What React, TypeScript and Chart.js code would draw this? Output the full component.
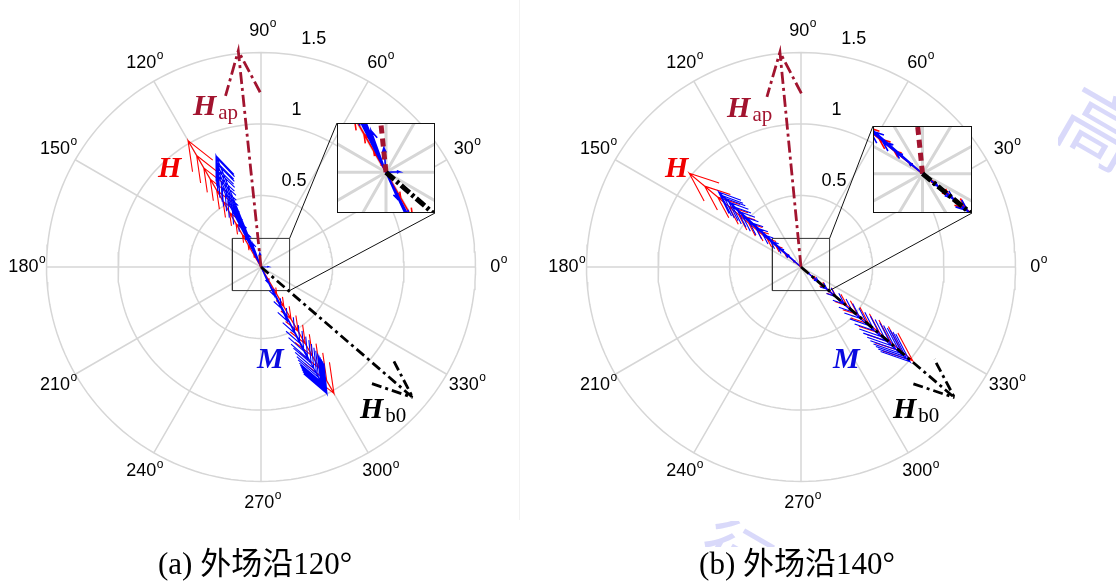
import React, { useEffect, useRef } from 'react';
import { Chart, registerables } from 'chart.js';

Chart.register(...registerables);

// ---------------- data ----------------
const RING_TICKS = [0.5, 1, 1.5];
const RING_LABELS = ['0.5', '1', '1.5'];
const SPOKE_ANGLES = [0, 30, 60, 90, 120, 150, 180, 210, 240, 270, 300, 330];
const ANGLE_LABELS = ['0', '30', '60', '90', '120', '150', '180', '210', '240', '270', '300', '330'];
const R_MAX = 1.5;

// panel (a): field along 120 deg
const FIELD_A_DEG = 120;
const H_A = [1.02, 0.9, 0.8, 0.71, 0.62, 0.53, 0.44, 0.35, 0.26, 0.18, 0.1, 0.04,
  -0.04, -0.12, -0.22, -0.32, -0.42, -0.52, -0.62, -0.72, -0.82, -0.92, -1.02];
const M_A_ANG = [112, 112, 113, 113, 114, 114, 115, 115, 116, 116, 117, 117, 116, 114, 110, 95,
  2,
  -66, -65, -64, -64, -63, -63, -63, -63, -62.5, -62.5, -62.5, -62.5, -62.5, -62.5, -62.5, -62.5, -62.5, -62.5];
const M_A_MAG = [0.84, 0.82, 0.8, 0.78, 0.76, 0.73, 0.7, 0.66, 0.62, 0.57, 0.51, 0.44, 0.36, 0.27, 0.18, 0.1,
  0.055,
  0.12, 0.22, 0.32, 0.42, 0.52, 0.6, 0.66, 0.72, 0.76, 0.8, 0.84, 0.87, 0.9, 0.92, 0.94, 0.96, 0.98, 1.0];

// panel (b): field along 140 deg
const FIELD_B_DEG = 140;
const H_B = [1.02, 0.88, 0.76, 0.66, 0.57, 0.48, 0.4, 0.31, 0.23, 0.15, 0.07,
  -0.06, -0.14, -0.23, -0.32, -0.42, -0.52, -0.62, -0.72, -0.82, -0.92, -1.02];
const M_B_ANG = [137.7, 138, 138, 138, 138.5, 138.5, 139, 139, 139, 139.5, 139.5, 140, 140, 140,
  -40, -40, -40.5, -40.5, -40.5, -41, -41, -41, -41, -41, -41, -41, -41, -41, -41, -41, -41];
const M_B_MAG = [0.78, 0.75, 0.72, 0.68, 0.64, 0.59, 0.54, 0.48, 0.42, 0.35, 0.28, 0.21, 0.14, 0.07,
  0.08, 0.16, 0.24, 0.32, 0.4, 0.48, 0.55, 0.62, 0.68, 0.74, 0.79, 0.84, 0.88, 0.92, 0.95, 0.98, 1.01];

// applied / bias field vectors [panel a, panel b]
const HAP_ANG = [96, 95.6];
const HAP_MAG = [1.52, 1.51];
const HB0_ANG = [-40.7, -40.4];
const HB0_MAG = [1.4, 1.41];

// zoomed window (data units)
const ZOOM_X = [-0.2, 0.2];
const ZOOM_Y = [-0.165, 0.2];

// ---------------- layout ----------------
const PX = 143; // pixels per unit in the main plots
const PAGE_H = 581;
const COLORS = { grid: '#d6d6d6', red: '#ff0000', blue: '#0000ff', maroon: '#a2142f', black: '#000000' };
const TICK_FONT = '"Liberation Sans", Arial, sans-serif';
const SERIF = '"Liberation Serif", "Times New Roman", serif';

type P = { x: number; y: number };
const GAP: P = { x: NaN, y: NaN };

function arrow(angDeg: number, mag: number): P[] {
  const t = (angDeg * Math.PI) / 180;
  const c = Math.cos(t), s = Math.sin(t);
  const rot = (u: number, v: number): P => ({ x: u * c - v * s, y: u * s + v * c });
  const tip = rot(mag, 0);
  const b1 = rot(0.8 * mag, 0.08 * mag);
  const b2 = rot(0.8 * mag, -0.08 * mag);
  return [{ x: 0, y: 0 }, tip, b1, GAP, b2, tip, GAP];
}
function vecArrows(angs: number[], mags: number[]): P[] {
  return angs.flatMap((a, i) => arrow(a, mags[i]));
}
function fieldArrows(fieldDeg: number, hs: number[]): P[] {
  return hs.flatMap((h) => (h >= 0 ? arrow(fieldDeg, h) : arrow(fieldDeg + 180, -h)));
}
function rings(): P[] {
  const out: P[] = [];
  RING_TICKS.forEach((r) => {
    for (let a = 0; a <= 360; a += 2) {
      const t = (a * Math.PI) / 180;
      out.push({ x: r * Math.cos(t), y: r * Math.sin(t) });
    }
    out.push(GAP);
  });
  return out;
}
function spokes(): P[] {
  return SPOKE_ANGLES.flatMap((a) => {
    const t = (a * Math.PI) / 180;
    return [{ x: 0, y: 0 }, { x: R_MAX * Math.cos(t), y: R_MAX * Math.sin(t) }, GAP];
  });
}
function zoomRect(): P[] {
  return [
    { x: ZOOM_X[0], y: ZOOM_Y[0] }, { x: ZOOM_X[1], y: ZOOM_Y[0] },
    { x: ZOOM_X[1], y: ZOOM_Y[1] }, { x: ZOOM_X[0], y: ZOOM_Y[1] }, { x: ZOOM_X[0], y: ZOOM_Y[0] },
  ];
}

const line = (data: P[], color: string, width: number, dash: number[] = []) => ({
  data, showLine: true, borderColor: color, backgroundColor: color, borderWidth: width,
  pointRadius: 0, borderDash: dash, spanGaps: false, fill: false, tension: 0,
});

interface Panel {
  idx: number; left: number; width: number; cx: number; cy: number;
  field: number; hs: number[]; mAng: number[]; mMag: number[];
  inset: { left: number; top: number; w: number; h: number };
  caption: string; captionX: number;
  lab: { hap: [number, number]; h: [number, number]; m: [number, number]; hb0: [number, number] };
}

const PANELS: Panel[] = [
  {
    idx: 0, left: 0, width: 540, cx: 261, cy: 267, field: FIELD_A_DEG, hs: H_A, mAng: M_A_ANG, mMag: M_A_MAG,
    inset: { left: 337, top: 123, w: 98, h: 90 }, caption: '(a) 外场沿120°', captionX: 255,
    lab: { hap: [-0.476, 1.063], h: [-0.72, 0.629], m: [-0.028, -0.706], hb0: [0.692, -1.056] },
  },
  {
    idx: 1, left: 540, width: 576, cx: 261, cy: 267, field: FIELD_B_DEG, hs: H_B, mAng: M_B_ANG, mMag: M_B_MAG,
    inset: { left: 333, top: 126, w: 99, h: 87 }, caption: '(b) 外场沿140°', captionX: 257,
    lab: { hap: [-0.517, 1.049], h: [-0.951, 0.629], m: [0.224, -0.706], hb0: [0.643, -1.056] },
  },
];

function baseOptions(xr: number[], yr: number[]) {
  return {
    responsive: false, animation: false as const, events: [] as any[], devicePixelRatio: 1,
    layout: { padding: 0 },
    plugins: { legend: { display: false }, tooltip: { enabled: false } },
    scales: {
      x: { type: 'linear' as const, min: xr[0], max: xr[1], display: false },
      y: { type: 'linear' as const, min: yr[0], max: yr[1], display: false },
    },
  };
}

function drawLabelWithSub(ctx: CanvasRenderingContext2D, main: string, sub: string, x: number, y: number, color: string) {
  ctx.fillStyle = color;
  ctx.textAlign = 'left';
  ctx.textBaseline = 'alphabetic';
  ctx.font = `bold italic 30px ${SERIF}`;
  ctx.fillText(main, x, y);
  if (sub) {
    const w = ctx.measureText(main).width;
    ctx.font = `21px ${SERIF}`;
    ctx.fillText(sub, x + w + 2, y + 4);
  }
}

function buildMain(canvas: HTMLCanvasElement, p: Panel) {
  const xr = [-p.cx / PX, (p.width - p.cx) / PX];
  const yr = [-(PAGE_H - p.cy) / PX, p.cy / PX];
  const datasets = [
    line(arrow(HB0_ANG[p.idx], HB0_MAG[p.idx]), COLORS.black, 2.8, [10, 4, 3, 4]),
    line(arrow(HAP_ANG[p.idx], HAP_MAG[p.idx]), COLORS.maroon, 2.8, [12, 4, 3, 4]),
    line(vecArrows(p.mAng, p.mMag), COLORS.blue, 1.1),
    line(fieldArrows(p.field, p.hs), COLORS.red, 1.1),
    line(zoomRect(), '#333333', 1),
    line(spokes(), COLORS.grid, 1.5),
    line(rings(), COLORS.grid, 1.5),
  ];
  const plugin = {
    id: 'labels' + p.idx,
    afterDatasetsDraw(chart: any) {
      const ctx: CanvasRenderingContext2D = chart.ctx;
      const X = (v: number) => chart.scales.x.getPixelForValue(v);
      const Y = (v: number) => chart.scales.y.getPixelForValue(v);
      ctx.save();
      // connectors from zoom box to inset
      ctx.strokeStyle = '#111';
      ctx.lineWidth = 1;
      ctx.beginPath();
      ctx.moveTo(X(ZOOM_X[1]), Y(ZOOM_Y[1]));
      ctx.lineTo(p.inset.left, p.inset.top);
      ctx.moveTo(X(ZOOM_X[1]), Y(ZOOM_Y[0]));
      ctx.lineTo(p.inset.left + p.inset.w, p.inset.top + p.inset.h);
      ctx.stroke();
      // angle labels
      ctx.fillStyle = '#000';
      const lr = 1.1 * R_MAX;
      SPOKE_ANGLES.forEach((a, i) => {
        const t = (a * Math.PI) / 180;
        const x = X(lr * Math.cos(t)), y = Y(lr * Math.sin(t));
        ctx.font = `18px ${TICK_FONT}`;
        const w1 = ctx.measureText(ANGLE_LABELS[i]).width;
        ctx.font = `12px ${TICK_FONT}`;
        const w2 = ctx.measureText('o').width;
        const x0 = x - w1 / 2 - w2 / 4;
        ctx.textAlign = 'left';
        ctx.textBaseline = 'middle';
        ctx.font = `18px ${TICK_FONT}`;
        ctx.fillText(ANGLE_LABELS[i], x0, y);
        ctx.font = `12px ${TICK_FONT}`;
        ctx.fillText('o', x0 + w1 + 0.5, y - 7);
      });
      // radial labels
      const t82 = (82 * Math.PI) / 180;
      RING_TICKS.forEach((r, i) => {
        ctx.font = `18px ${TICK_FONT}`;
        ctx.textAlign = 'left';
        ctx.textBaseline = 'alphabetic';
        ctx.fillText('  ' + RING_LABELS[i], X((r + 0.025) * Math.cos(t82)), Y((r + 0.025) * Math.sin(t82)) - 7);
      });
      // vector labels
      drawLabelWithSub(ctx, 'H', 'ap', X(p.lab.hap[0]), Y(p.lab.hap[1]), COLORS.maroon);
      drawLabelWithSub(ctx, 'H', '', X(p.lab.h[0]), Y(p.lab.h[1]), '#f00000');
      drawLabelWithSub(ctx, 'M', '', X(p.lab.m[0]), Y(p.lab.m[1]), '#0a0ae0');
      drawLabelWithSub(ctx, 'H', 'b0', X(p.lab.hb0[0]), Y(p.lab.hb0[1]), '#000');
      // caption
      ctx.fillStyle = '#000';
      ctx.font = `31px ${SERIF}, "Noto Sans CJK SC"`;
      ctx.textAlign = 'center';
      ctx.textBaseline = 'alphabetic';
      ctx.fillText(p.caption, p.captionX, 574);
      if (p.idx === 0) {
        ctx.strokeStyle = '#f2f2f2';
        ctx.beginPath();
        ctx.moveTo(519.5, 0);
        ctx.lineTo(519.5, 520);
        ctx.stroke();
      } else {
        // faint watermark fragments outside the figure images
        ctx.fillStyle = 'rgba(170,170,245,0.45)';
        ctx.textAlign = 'center';
        ctx.textBaseline = 'middle';
        ctx.save();
        ctx.beginPath();
        ctx.rect(518, 72, 60, 120);
        ctx.clip();
        ctx.translate(560, 128);
        ctx.rotate((30 * Math.PI) / 180);
        ctx.font = '78px "Noto Sans CJK SC"';
        ctx.fillText('高', 0, 0);
        ctx.restore();
        ctx.save();
        ctx.beginPath();
        ctx.rect(150, 521, 95, 26);
        ctx.clip();
        ctx.translate(195, 555);
        ctx.rotate((30 * Math.PI) / 180);
        ctx.font = '70px "Noto Sans CJK SC"';
        ctx.fillText('行', 0, 0);
        ctx.restore();
      }
      ctx.restore();
    },
  };
  return new Chart(canvas, {
    type: 'scatter',
    data: { datasets: datasets as any },
    options: baseOptions(xr, yr) as any,
    plugins: [plugin],
  });
}

function buildInset(canvas: HTMLCanvasElement, p: Panel) {
  const datasets = [
    line(arrow(HB0_ANG[p.idx], HB0_MAG[p.idx]), COLORS.black, 5, [11, 3, 3, 3]),
    line(arrow(HAP_ANG[p.idx], HAP_MAG[p.idx]), COLORS.maroon, 5, [8, 5]),
    line(vecArrows(p.mAng, p.mMag), COLORS.blue, 1.6),
    line(fieldArrows(p.field, p.hs), COLORS.red, 1.6),
    line(spokes(), COLORS.grid, 3),
  ];
  const border = {
    id: 'border' + p.idx,
    afterDraw(chart: any) {
      const ctx: CanvasRenderingContext2D = chart.ctx;
      ctx.save();
      ctx.strokeStyle = '#111';
      ctx.lineWidth = 1;
      ctx.strokeRect(0.5, 0.5, chart.width - 1, chart.height - 1);
      ctx.restore();
    },
  };
  return new Chart(canvas, {
    type: 'scatter',
    data: { datasets: datasets as any },
    options: baseOptions(ZOOM_X, ZOOM_Y) as any,
    plugins: [border],
  });
}

export default function App() {
  const mainRefs = [useRef<HTMLCanvasElement>(null), useRef<HTMLCanvasElement>(null)];
  const insetRefs = [useRef<HTMLCanvasElement>(null), useRef<HTMLCanvasElement>(null)];
  useEffect(() => {
    const charts: Chart[] = [];
    PANELS.forEach((p, i) => {
      charts.push(buildMain(mainRefs[i].current as HTMLCanvasElement, p));
      charts.push(buildInset(insetRefs[i].current as HTMLCanvasElement, p));
    });
    return () => charts.forEach((c) => c.destroy());
  }, []);
  return (
    <div style={{ position: 'absolute', left: 0, top: 0, width: 1116, height: PAGE_H, background: '#fff', overflow: 'hidden' }}>
      {PANELS.map((p, i) => (
        <React.Fragment key={i}>
          <canvas
            ref={mainRefs[i]}
            width={p.width}
            height={PAGE_H}
            style={{ position: 'absolute', left: p.left, top: 0, width: p.width, height: PAGE_H }}
          />
          <canvas
            ref={insetRefs[i]}
            width={p.inset.w}
            height={p.inset.h}
            style={{
              position: 'absolute', left: p.left + p.inset.left, top: p.inset.top,
              width: p.inset.w, height: p.inset.h, background: '#fff',
            }}
          />
        </React.Fragment>
      ))}
    </div>
  );
}
